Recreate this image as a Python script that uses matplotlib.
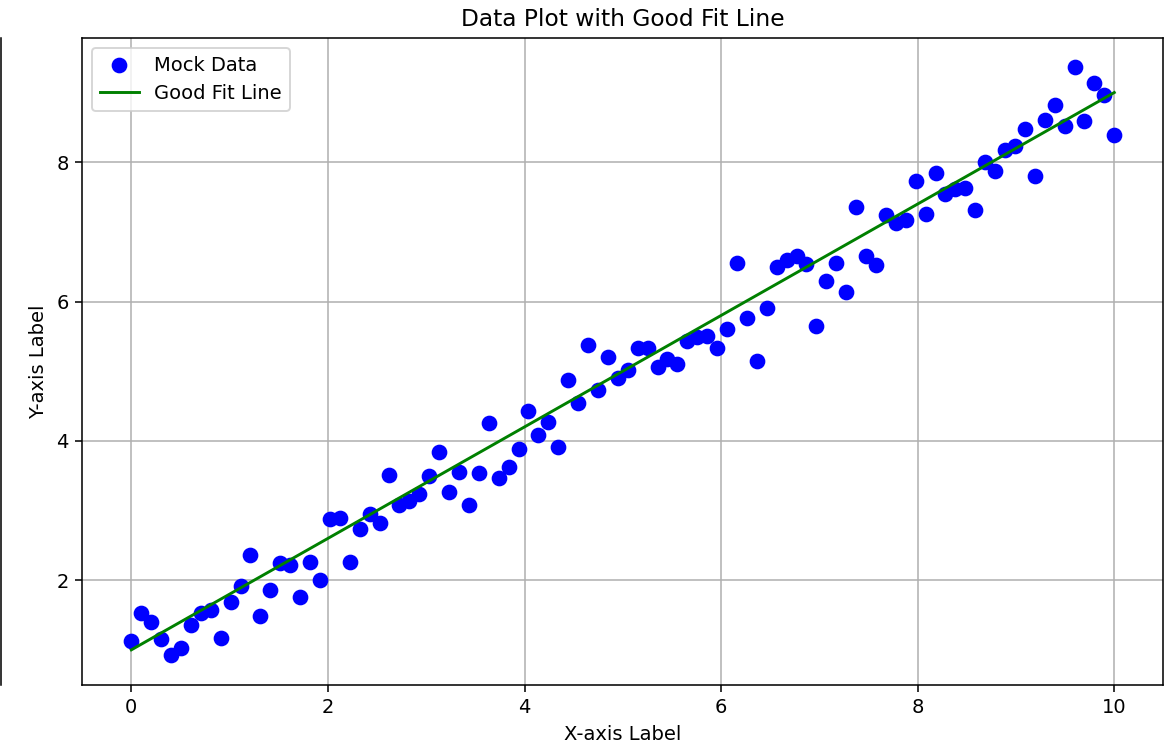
import numpy as np
import matplotlib.pyplot as plt
from matplotlib.lines import Line2D

# mock data
x = np.linspace(0, 10, 100)
y = [1.12, 1.53, 1.40, 1.15, 0.92, 1.02, 1.35, 1.53, 1.57, 1.17,
     1.68, 1.91, 2.36, 1.48, 1.86, 2.24, 2.22, 1.76, 2.26, 2.00,
     2.88, 2.89, 2.26, 2.73, 2.95, 2.82, 3.51, 3.08, 3.13, 3.23,
     3.49, 3.84, 3.26, 3.55, 3.08, 3.54, 4.25, 3.46, 3.62, 3.89,
     4.43, 4.08, 4.27, 3.91, 4.87, 4.54, 5.37, 4.73, 5.20, 4.90,
     5.01, 5.33, 5.34, 5.06, 5.17, 5.10, 5.43, 5.49, 5.50, 5.34,
     5.60, 6.55, 5.77, 5.14, 5.90, 6.49, 6.59, 6.66, 6.54, 5.65,
     6.29, 6.56, 6.13, 7.35, 6.66, 6.52, 7.24, 7.12, 7.17, 7.73,
     7.25, 7.84, 7.54, 7.61, 7.63, 7.31, 8.00, 7.87, 8.17, 8.23,
     8.47, 7.80, 8.60, 8.82, 8.52, 9.36, 8.59, 9.13, 8.96, 8.39]
slope = 0.8
intercept = 1.0

dpi = 140
fig = plt.figure(figsize=(1174 / dpi, 746 / dpi), dpi=dpi)
ax = fig.add_axes([0.070, 0.082, 0.921, 0.867])

ax.scatter(x, y, color='blue', s=50, label='Mock Data', zorder=3)
ax.plot(x, slope * x + intercept, color='green', label='Good Fit Line', zorder=4)

ax.set_title('Data Plot with Good Fit Line')
ax.set_xlabel('X-axis Label')
ax.set_ylabel('Y-axis Label')
ax.grid(True)
ax.legend(loc='upper left')

# stray spine on the left edge of the image
fig.add_artist(Line2D([0.001, 0.001], [0.082, 0.949], color='black', linewidth=0.8,
                      transform=fig.transFigure))

fig.savefig('out.png', dpi=dpi)
